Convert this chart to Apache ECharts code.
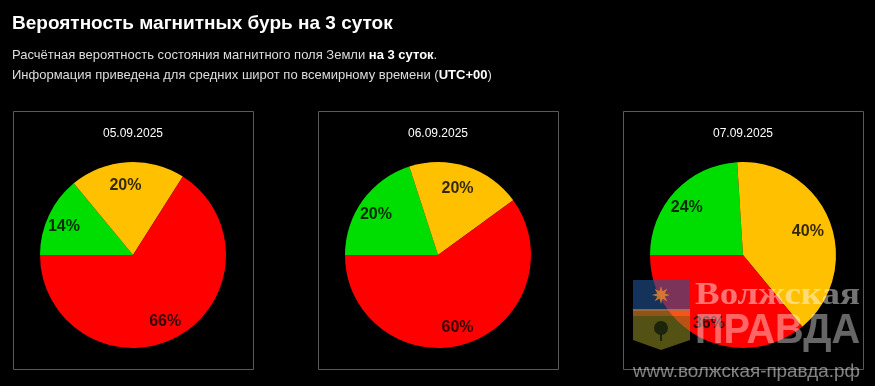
<!DOCTYPE html>
<html><head><meta charset="utf-8">
<script src="https://cdn.jsdelivr.net/npm/echarts@6/dist/echarts.min.js"></script>
<style>html,body{margin:0;padding:0;background:#000;overflow:hidden}#c{width:875px;height:386px;}</style>
</head><body><div id="c"></div>
<script>
// ---- data ----
const dates = ['05.09.2025', '06.09.2025', '07.09.2025'];
const categories = ['Спокойно', 'Возмущено', 'Буря'];
const greenValues = [14, 20, 24];
const yellowValues = [20, 20, 40];
const redValues = [66, 60, 36];
const titleText = 'Вероятность магнитных бурь на 3 суток';

// ---- layout / style ----
const FONT = '"Liberation Sans", Arial, sans-serif';
const SERIF = '"Liberation Serif", "DejaVu Serif", serif';
const sliceColors = ['#00dd00', '#ffc000', '#ff0000'];
const centersX = [133, 438, 743];
const centerY = 255;
const R = 93;

const chart = echarts.init(document.getElementById('c'), null, {renderer: 'canvas'});

const series = [];
const graphics = [];
dates.forEach((d, i) => {
  const vals = [greenValues[i], yellowValues[i], redValues[i]];
  const data = categories.map((c, k) => ({name: c, value: vals[k], itemStyle: {color: sliceColors[k]}}));
  series.push({
    type: 'pie', center: [centersX[i], centerY], radius: [0, R], startAngle: 180, clockwise: true,
    silent: true, label: {show: false}, labelLine: {show: false}, emphasis: {disabled: true},
    itemStyle: {borderWidth: 0}, data: data, animation: false
  });
  series.push({
    type: 'pie', center: [centersX[i], centerY], radius: [47, R], startAngle: 180, clockwise: true,
    silent: true, z: 5, emphasis: {disabled: true}, animation: false,
    itemStyle: {color: 'transparent', borderWidth: 0},
    label: {show: true, position: 'inside', formatter: '{c}%', offset: [-3, 3], fontFamily: FONT, fontWeight: 'bold', fontSize: 16, color: 'rgba(0,0,0,0.8)'},
    labelLine: {show: false},
    data: categories.map((c, k) => ({name: c, value: vals[k]}))
  });
  graphics.push({
    type: 'rect', shape: {x: centersX[i] - 120 + 0.5, y: 111.5, width: 240, height: 258},
    style: {fill: 'none', stroke: '#5a5a5a', lineWidth: 1}, z: 1, silent: true
  });
  graphics.push({
    type: 'text', x: centersX[i], y: 134, z: 2, silent: true,
    style: {text: d, fill: '#ffffff', font: '12px ' + FONT, textAlign: 'center', textVerticalAlign: 'middle'}
  });
});

graphics.push({
  type: 'text', x: 12, y: 24, silent: true,
  style: {text: titleText, fill: '#ffffff', font: 'bold 19px ' + FONT, textVerticalAlign: 'middle'}
});
graphics.push({
  type: 'text', x: 12, y: 55, silent: true,
  style: {
    text: 'Расчётная вероятность состояния магнитного поля Земли {b|на 3 суток}.',
    fill: '#dddddd', font: '13px ' + FONT, textVerticalAlign: 'middle',
    rich: {b: {fill: '#ffffff', fontWeight: 'bold', fontSize: 13, fontFamily: FONT}}
  }
});
graphics.push({
  type: 'text', x: 12, y: 75, silent: true,
  style: {
    text: 'Информация приведена для средних широт по всемирному времени ({b|UTC+00})',
    fill: '#dddddd', font: '13px ' + FONT, textVerticalAlign: 'middle',
    rich: {b: {fill: '#ffffff', fontWeight: 'bold', fontSize: 13, fontFamily: FONT}}
  }
});

// ---- watermark (decoration) ----
const mctx = document.createElement('canvas').getContext('2d');
function fitScale(text, font, w) { mctx.font = font; return w / mctx.measureText(text).width; }
const wm1Font = 'bold 31px ' + SERIF;
const wm2Font = 'bold 43px ' + FONT;
const wm3Font = '19px ' + FONT;
const starPts = [];
for (let k = 0; k < 16; k++) {
  const a = -Math.PI / 2 + k * Math.PI / 8;
  const r = k % 2 ? 4 : 9;
  starPts.push([661 + r * Math.cos(a), 295 + r * Math.sin(a)]);
}
graphics.push({
  type: 'group', zlevel: 5, silent: true, children: [
    {type: 'polygon', zlevel: 5, shape: {points: [[633,280],[690,280],[690,311],[633,311]]}, style: {fill: 'rgba(35,85,150,0.6)'}},
    {type: 'rect', zlevel: 5, shape: {x: 633, y: 309, width: 57, height: 7}, style: {fill: 'rgba(240,140,40,0.6)'}},
    {type: 'polygon', zlevel: 5, shape: {points: [[633,316],[690,316],[690,340],[661,350],[633,340]]}, style: {fill: 'rgba(140,135,35,0.6)'}},
    {type: 'polygon', zlevel: 5, shape: {points: starPts}, style: {fill: 'rgba(245,140,40,0.75)'}},
    {type: 'circle', zlevel: 5, shape: {cx: 661, cy: 328, r: 7}, style: {fill: 'rgba(15,25,10,0.8)'}},
    {type: 'rect', zlevel: 5, shape: {x: 660, y: 334, width: 2, height: 7}, style: {fill: 'rgba(15,25,10,0.8)'}},
    {type: 'text', zlevel: 5, x: 695, y: 296, scaleX: fitScale('Волжская', wm1Font, 165),
      style: {text: 'Волжская', fill: 'rgba(255,255,255,0.45)', font: wm1Font, textVerticalAlign: 'middle'}},
    {type: 'text', zlevel: 5, x: 695, y: 331, scaleX: fitScale('ПРАВДА', wm2Font, 165),
      style: {text: 'ПРАВДА', fill: 'rgba(255,255,255,0.4)', font: wm2Font, textVerticalAlign: 'middle'}},
    {type: 'text', zlevel: 5, x: 633, y: 372, scaleX: fitScale('www.волжская-правда.рф', wm3Font, 227),
      style: {text: 'www.волжская-правда.рф', fill: 'rgba(255,255,255,0.5)', font: wm3Font, textVerticalAlign: 'middle'}}
  ]
});

chart.setOption({
  backgroundColor: '#000000',
  animation: false,
  series: series,
  graphic: graphics
});
</script>
</body></html>
